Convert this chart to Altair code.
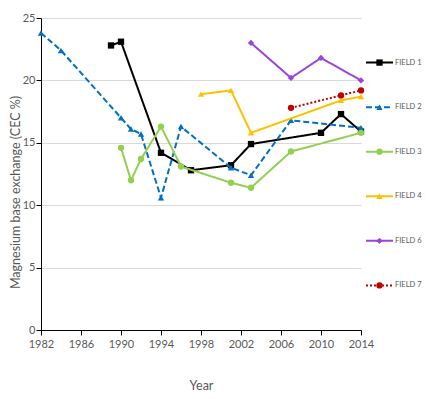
import altair as alt
import pandas as pd

# ---- data ----
field_names = ["FIELD 1", "FIELD 2", "FIELD 3", "FIELD 4", "FIELD 6", "FIELD 7"]

field1_years = [1989, 1990, 1994, 1997, 2001, 2003, 2010, 2012, 2014]
field1_vals = [22.8, 23.1, 14.2, 12.8, 13.2, 14.9, 15.8, 17.3, 15.9]

field2_years = [1982, 1984, 1990, 1991, 1992, 1994, 1996, 2001, 2003, 2007, 2014]
field2_vals = [23.8, 22.4, 17.0, 16.1, 15.7, 10.6, 16.3, 13.0, 12.4, 16.8, 16.2]

field3_years = [1990, 1991, 1992, 1994, 1996, 2001, 2003, 2007, 2014]
field3_vals = [14.6, 12.0, 13.7, 16.3, 13.1, 11.8, 11.4, 14.3, 15.8]

field4_years = [1998, 2001, 2003, 2012, 2014]
field4_vals = [18.9, 19.2, 15.8, 18.4, 18.7]

field6_years = [2003, 2007, 2010, 2014]
field6_vals = [23.0, 20.2, 21.8, 20.0]

field7_years = [2007, 2012, 2014]
field7_vals = [17.8, 18.8, 19.2]

x_ticks = [1982, 1986, 1990, 1994, 1998, 2002, 2006, 2010, 2014]
y_ticks = [0, 5, 10, 15, 20, 25]

# ---- styles ----
colors = ["#000000", "#0070C0", "#92D050", "#FFC000", "#9A45D8", "#C00000"]
dashes = [[1, 0], [6, 3], [1, 0], [1, 0], [1, 0], [2, 2]]
shapes = ["square", "triangle-up", "circle", "triangle-up", "diamond", "circle"]
sizes = [40, 40, 30, 40, 30, 26]

series = [
    (field1_years, field1_vals), (field2_years, field2_vals),
    (field3_years, field3_vals), (field4_years, field4_vals),
    (field6_years, field6_vals), (field7_years, field7_vals),
]
rows = []
for name, (yrs, vals) in zip(field_names, series):
    for yr, v in zip(yrs, vals):
        rows.append({"field": name, "year": yr, "value": v})
df = pd.DataFrame(rows)
legend_df = pd.DataFrame({"field": field_names})

FONT = "Lato"
GRAY = "#595959"

color_scale = alt.Scale(domain=field_names, range=colors)
dash_scale = alt.Scale(domain=field_names, range=dashes)
shape_scale = alt.Scale(domain=field_names, range=shapes)
size_scale = alt.Scale(domain=field_names, range=sizes)

x_enc = alt.X(
    "year:Q",
    scale=alt.Scale(domain=[1982, 2014], nice=False, zero=False),
    axis=alt.Axis(
        values=x_ticks, format="d", title="Year", grid=False,
        domainColor="#000000", tickColor="#000000", tickSize=5,
        labelPadding=3, titlePadding=30, labelFlush=False,
    ),
)
y_enc = alt.Y(
    "value:Q",
    scale=alt.Scale(domain=[0, 25], nice=False),
    axis=alt.Axis(
        values=y_ticks, title="Magnesium base exchange (CEC %)",
        grid=True, gridColor="#D9D9D9", domainColor="#000000",
        tickColor="#000000", tickSize=5, labelPadding=1, titlePadding=0,
        titleY=174,
    ),
)

layers = []
for i, name in enumerate(field_names):
    base = alt.Chart(df).transform_filter(alt.datum.field == name)
    line = base.mark_line(strokeWidth=2).encode(
        x=x_enc, y=y_enc,
        color=alt.Color("field:N", scale=color_scale, legend=None),
        strokeDash=alt.StrokeDash("field:N", scale=dash_scale, legend=None),
    )
    pts = base.mark_point(filled=True, opacity=1).encode(
        x=x_enc, y=y_enc,
        color=alt.Color("field:N", scale=color_scale, legend=None),
        shape=alt.Shape("field:N", scale=shape_scale, legend=None),
        size=alt.Size("field:N", scale=size_scale, legend=None),
    )
    layers += [line, pts]

# ---- custom legend, drawn to the right of the plot ----
leg_y = alt.Y("field:N", sort=field_names,
              scale=alt.Scale(type="point", padding=1.05), axis=None)
leg_base = alt.Chart(legend_df)
leg_line = leg_base.mark_rule(strokeWidth=2).encode(
    x=alt.value(325), x2=alt.value(352), y=leg_y,
    color=alt.Color("field:N", scale=color_scale, legend=None),
    strokeDash=alt.StrokeDash("field:N", scale=dash_scale, legend=None),
)
leg_pts = leg_base.mark_point(filled=True, opacity=1).encode(
    x=alt.value(338.5), y=leg_y,
    color=alt.Color("field:N", scale=color_scale, legend=None),
    shape=alt.Shape("field:N", scale=shape_scale, legend=None),
    size=alt.Size("field:N", scale=size_scale, legend=None),
)
leg_text = leg_base.mark_text(
    align="left", baseline="middle", font=FONT, fontSize=7.5, color=GRAY
).encode(x=alt.value(354), y=leg_y, text="field:N")

main = alt.layer(*layers)
legend = alt.layer(leg_line, leg_pts, leg_text)

chart = (
    alt.layer(main, legend)
    .resolve_scale(y="independent")
    .properties(
        width=320, height=312,
        autosize=alt.AutoSizeParams(type="none"),
        padding={"left": 33, "top": 10, "right": 66, "bottom": 72},
    )
    .configure_view(stroke=None)
    .configure_axis(
        labelFont=FONT, titleFont=FONT, labelFontSize=11, titleFontSize=12.5,
        labelColor=GRAY, titleColor=GRAY, titleFontWeight="normal",
    )
)

chart.save("out.html", embed_options={"renderer": "svg", "actions": False})
